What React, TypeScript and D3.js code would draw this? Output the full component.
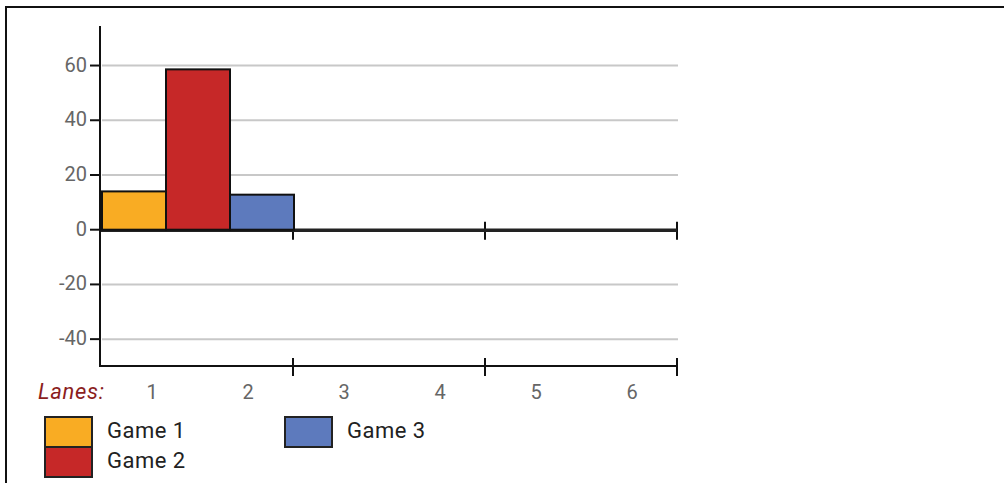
import React from "react";
import * as d3 from "d3";

const lanes = ["1", "2", "3", "4", "5", "6"];
const groups = ["A", "B", "C"];
const seriesNames = ["Game 1", "Game 2", "Game 3"];
const game1 = [14, 0, 0];
const game2 = [58.6, 0, 0];
const game3 = [12.8, 0, 0];
const yTicks = [-40, -20, 0, 20, 40, 60];
const colors = ["#F9AC23", "#C62828", "#5D7ABD"];

const W = 1004;
const H = 483;

export default function App() {
  const y = d3.scaleLinear().domain([-50, 75]).range([366.5, 24.5]);
  const x = d3.scaleBand<string>().domain(groups).range([101, 677]).padding(0);
  const xs = d3.scaleBand<string>().domain(seriesNames).range([0, x.bandwidth()]).padding(0);
  const laneX = d3.scaleBand<string>().domain(lanes).range([104, 680]);
  const series = [game1, game2, game3];
  const y0 = y(0);
  const bottom = 366;
  const boundaries = groups.map((g) => (x(g) as number) + x.bandwidth());

  return (
    <svg
      width={W}
      height={H}
      style={{ position: "absolute", left: 0, top: 0, fontFamily: "Roboto, sans-serif" }}
    >
      <rect x={6} y={7} width={1100} height={600} fill="white" stroke="#111" strokeWidth={2} />
      {/* grid */}
      {yTicks.filter((t) => t !== 0).map((t) => (
        <line key={"g" + t} x1={102} x2={678} y1={y(t)} y2={y(t)} stroke="#c8c8c8" strokeWidth={2} />
      ))}
      {/* y axis */}
      <line x1={100} x2={100} y1={26} y2={bottom + 1} stroke="#111" strokeWidth={2} />
      {yTicks.map((t) => (
        <g key={"t" + t}>
          <line x1={90} x2={100} y1={y(t)} y2={y(t)} stroke="#111" strokeWidth={2} />
          <text x={87} y={y(t)} dy="0.3em" textAnchor="end" fontSize={20} fill="#666">
            {t}
          </text>
        </g>
      ))}
      {/* bottom axis */}
      <line x1={101} x2={677} y1={bottom} y2={bottom} stroke="#111" strokeWidth={2} />
      {boundaries.map((b, i) => (
        <line key={"bt" + i} x1={b} x2={b} y1={bottom - 8} y2={bottom + 10} stroke="#111" strokeWidth={2} />
      ))}
      {/* zero axis */}
      {boundaries.map((b, i) => (
        <line key={"zt" + i} x1={b} x2={b} y1={y0 - 8} y2={y0 + 10} stroke="#111" strokeWidth={2} />
      ))}
      <line x1={101} x2={677} y1={y0 + 0.5} y2={y0 + 0.5} stroke="#222" strokeWidth={3.5} />
      {/* bars */}
      {groups.map((g, gi) =>
        series.map((s, si) => {
          const v = s[gi];
          const bx = (x(g) as number) + (xs(seriesNames[si]) as number);
          const top = Math.min(y(v), y0);
          const h = Math.abs(y(v) - y0);
          return (
            <rect
              key={g + si}
              x={bx + 1}
              y={top}
              width={xs.bandwidth()}
              height={h}
              fill={colors[si]}
              stroke="#111"
              strokeWidth={2}
            />
          );
        })
      )}
      {/* lane labels */}
      <text x={38} y={399} fontSize={22} fontStyle="italic" fill="#8B1E1E" letterSpacing={0.7}>
        Lanes:
      </text>
      {lanes.map((l) => (
        <text
          key={"l" + l}
          x={(laneX(l) as number) + laneX.bandwidth() / 2}
          y={399}
          textAnchor="middle"
          fontSize={20}
          fill="#666"
        >
          {l}
        </text>
      ))}
      {/* legend */}
      {seriesNames.map((n, i) => {
        const lx = i === 2 ? 284 : 44;
        const ly = i === 1 ? 447 : 417;
        return (
          <g key={"lg" + n}>
            <rect x={lx + 1} y={ly} width={47} height={30} fill={colors[i]} stroke="#222" strokeWidth={2} />
            <text x={lx + 63} y={ly + 21} fontSize={22} fill="#222" letterSpacing={0.5}>
              {n}
            </text>
          </g>
        );
      })}
    </svg>
  );
}
